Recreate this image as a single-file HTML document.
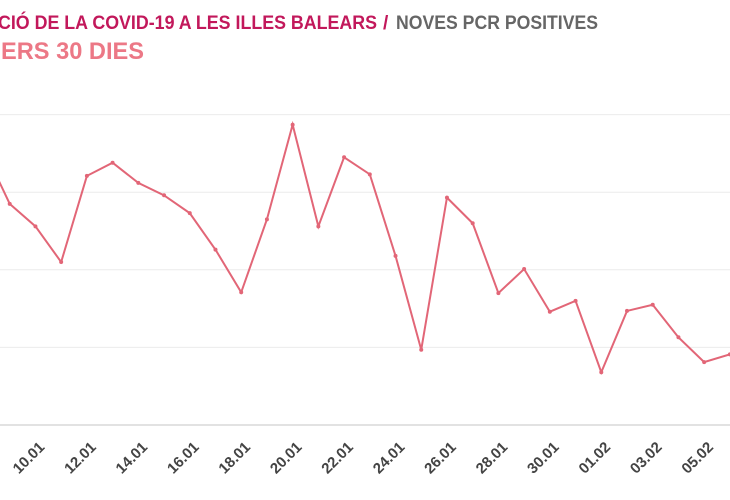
<!DOCTYPE html>
<html><head><meta charset="utf-8"><style>
html,body{margin:0;padding:0;background:#fff;width:730px;height:500px;overflow:hidden}
svg{display:block;font-family:"Liberation Sans Narrow","Liberation Sans",sans-serif}
</style></head><body>
<svg id="chart" width="730" height="500" viewBox="0 0 730 500">
<text y="29" font-size="19" font-weight="bold"><tspan x="-2" fill="#c2185b" textLength="379" lengthAdjust="spacingAndGlyphs">CIÓ DE LA COVID-19 A LES ILLES BALEARS</tspan><tspan x="383" fill="#c2185b">/</tspan><tspan x="396" fill="#666" textLength="202" lengthAdjust="spacingAndGlyphs">NOVES PCR POSITIVES</tspan></text>
<text x="1" y="59" font-size="24" font-weight="bold" fill="#ec7886" textLength="143" lengthAdjust="spacingAndGlyphs">ERS 30 DIES</text>
<g id="grid"></g><g id="xlabels"></g><g id="series"></g>
</svg>
<script>
const dates=["08.01","09.01","10.01","11.01","12.01","13.01","14.01","15.01","16.01","17.01","18.01","19.01","20.01","21.01","22.01","23.01","24.01","25.01","26.01","27.01","28.01","29.01","30.01","31.01","01.02","02.02","03.02","04.02","05.02","06.02"];
const values=[355,285,256,210,321,338,312,296,273,226,171,265,387,256,345,323,218,97,293,260,170,201,146,160,68,147,155,113,81,91];
const gridValues=[0,100,200,300,400];
const NS="http://www.w3.org/2000/svg";
const x0=-16,step=25.72,yBase=425,yPer=0.776;
function xs(i){return x0+i*step;}
function ys(v){return yBase-v*yPer;}
const grid=document.getElementById('grid');
gridValues.forEach(v=>{
  const l=document.createElementNS(NS,'line');
  
  
  l.setAttribute('x1',0);l.setAttribute('x2',730);
  l.setAttribute('y1',ys(v));l.setAttribute('y2',ys(v));
  l.setAttribute('stroke',v===0?'#d8d8d8':'#ececec');
  l.setAttribute('stroke-width',v===0?1.5:1);
  grid.appendChild(l);
});
const xl=document.getElementById('xlabels');
dates.forEach((d,i)=>{
  if(i%2!==0)return;
  const x=xs(i);
  if(x<10)return;
  const t=document.createElementNS(NS,'text');
  
  
  t.setAttribute('text-anchor','end');
  t.setAttribute('font-size','15');
  t.setAttribute('font-weight','bold');
  t.setAttribute('fill','#444');
  t.setAttribute('transform','translate('+(x+10)+',448) rotate(-45)');
  t.textContent=d;
  xl.appendChild(t);
});
const s=document.getElementById('series');
const p=document.createElementNS(NS,'polyline');


p.setAttribute('points',values.map((v,i)=>xs(i)+','+ys(v)).join(' '));
p.setAttribute('fill','none');p.setAttribute('stroke','#e26677');p.setAttribute('stroke-width','2');
s.appendChild(p);
values.forEach((v,i)=>{
  const c=document.createElementNS(NS,'circle');
  
  
  c.setAttribute('cx',xs(i));c.setAttribute('cy',ys(v));c.setAttribute('r','2');
  c.setAttribute('fill','#e26677');
  s.appendChild(c);
});
</script>
</body></html>
